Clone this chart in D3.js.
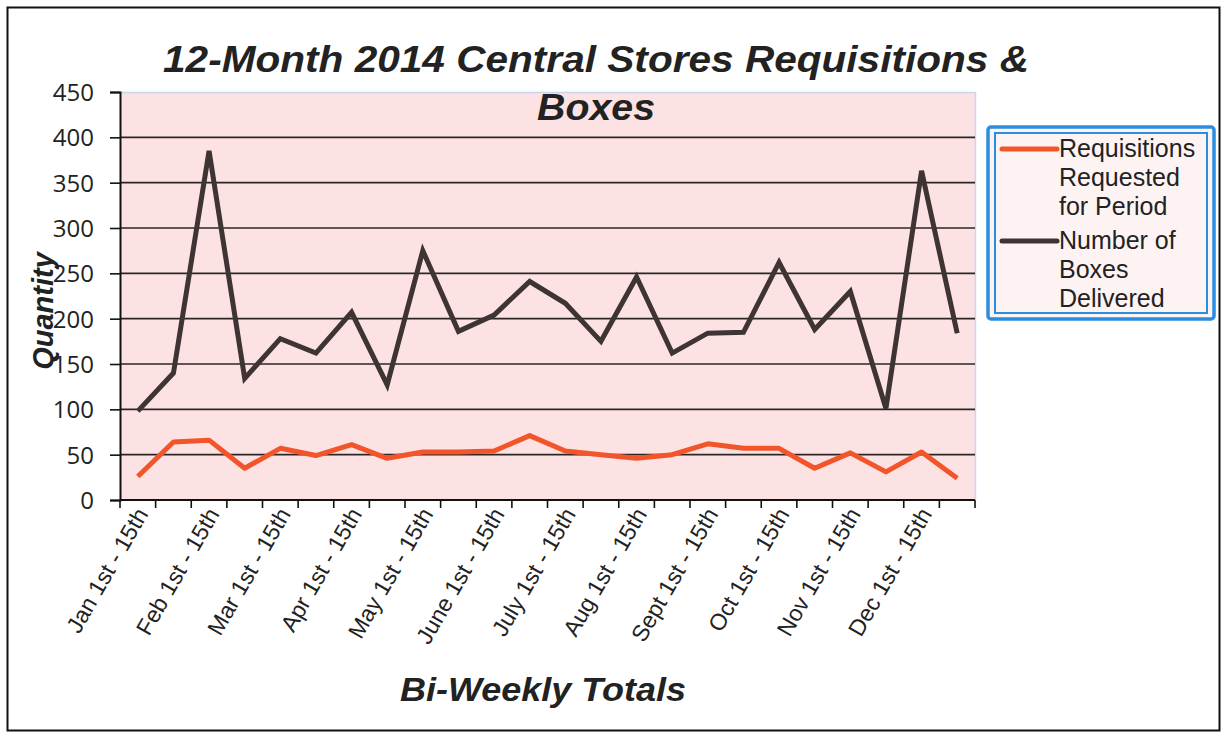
<!DOCTYPE html>
<html>
<head>
<meta charset="utf-8">
<script src="https://cdn.jsdelivr.net/npm/d3@7"></script>
<style>
  html, body { margin: 0; padding: 0; background: #ffffff; }
  svg { display: block; }
</style>
</head>
<body>
<svg id="chart" width="1222" height="734"></svg>
<script>
// ---- data ----
const categories = [
  "Jan 1st - 15th", "Jan 16th - 31st",
  "Feb 1st - 15th", "Feb 16th - 28th",
  "Mar 1st - 15th", "Mar 16th - 31st",
  "Apr 1st - 15th", "Apr 16th - 30th",
  "May 1st - 15th", "May 16th - 31st",
  "June 1st - 15th", "June 16th - 30th",
  "July 1st - 15th", "July 16th - 31st",
  "Aug 1st - 15th", "Aug 16th - 31st",
  "Sept 1st - 15th", "Sept 16th - 30th",
  "Oct 1st - 15th", "Oct 16th - 31st",
  "Nov 1st - 15th", "Nov 16th - 30th",
  "Dec 1st - 15th", "Dec 16th - 31st"
];
const requisitions = [26, 64, 66, 35, 57, 49, 61, 46, 53, 53, 54, 71, 54, 50, 46, 50, 62, 57, 57, 35, 52, 31, 53, 24];
const boxes = [98, 140, 385, 134, 178, 162, 207, 127, 275, 186, 204, 241, 217, 175, 246, 162, 184, 185, 262, 188, 230, 101, 363, 184];
const yTicks = [0, 50, 100, 150, 200, 250, 300, 350, 400, 450];
const seriesNames = [["Requisitions", "Requested", "for Period"], ["Number of", "Boxes", "Delivered"]];
const titleLines = ["12-Month 2014 Central Stores Requisitions &", "Boxes"];
const xTitle = "Bi-Weekly Totals";
const yTitle = "Quantity";

// ---- layout ----
const svg = d3.select("#chart");
const L = 120, R = 975, T = 92, B = 500;
const orange = "#f2552a", dark = "#3e3434";

// outer frame
svg.append("rect").attr("x", 7.5).attr("y", 7.5).attr("width", 1212).attr("height", 723)
  .attr("fill", "#fff").attr("stroke", "#111").attr("stroke-width", 2);

const x = d3.scaleBand().domain(categories).range([L, R]).padding(0);
const y = d3.scaleLinear().domain([0, 450]).range([B, T]);

// plot background
svg.append("rect").attr("x", L).attr("y", T).attr("width", R - L).attr("height", B - T)
  .attr("fill", "#fde2e4").attr("stroke", "none");
svg.append("line").attr("x1", L).attr("x2", R).attr("y1", T + 0.5).attr("y2", T + 0.5)
  .attr("stroke", "#c8d4f0").attr("stroke-width", 1.5);
svg.append("line").attr("x1", R + 0.5).attr("x2", R + 0.5).attr("y1", T).attr("y2", B)
  .attr("stroke", "#c8d4f0").attr("stroke-width", 1.5);

// gridlines
svg.append("g").selectAll("line").data(yTicks.filter(v => v > 0 && v < 450)).join("line")
  .attr("x1", L).attr("x2", R)
  .attr("y1", d => y(d)).attr("y2", d => y(d))
  .attr("stroke", "#2a2626").attr("stroke-width", 1.6);

// y axis
const yAxis = d3.axisLeft(y).tickValues(yTicks).tickSize(10).tickPadding(6);
const gy = svg.append("g").attr("transform", `translate(${L},0)`).call(yAxis);
gy.select(".domain").attr("stroke", "#111").attr("stroke-width", 2);
gy.selectAll(".tick line").attr("stroke", "#111").attr("stroke-width", 1.6);
gy.selectAll(".tick text").attr("font-family", "'Open Sans', sans-serif")
  .attr("font-size", 24).attr("fill", "#222").attr("x", -26).attr("dy", "0.36em");

// x axis
const tickPos = d3.range(categories.length + 1).map(i => L + i * x.step());
const gx = svg.append("g");
gx.append("line").attr("x1", L).attr("x2", R).attr("y1", B).attr("y2", B)
  .attr("stroke", "#111").attr("stroke-width", 2);
gx.selectAll("line.t").data(tickPos).join("line").attr("class", "t")
  .attr("x1", d => d).attr("x2", d => d).attr("y1", B).attr("y2", B + 8)
  .attr("stroke", "#111").attr("stroke-width", 1.6);
gx.selectAll("text").data(categories.filter((c, i) => i % 2 === 0)).join("text")
  .attr("transform", d => `translate(${x(d) + x.bandwidth() / 2 + 11},${B + 14}) rotate(-60)`)
  .attr("text-anchor", "end")
  .attr("font-family", "'Liberation Sans', Arial, sans-serif")
  .attr("font-size", 23).attr("fill", "#222")
  .text(d => d);

// lines
const line = d3.line().x((d, i) => x(categories[i]) + x.bandwidth() / 2).y(d => y(d));
svg.append("path").datum(boxes).attr("d", line).attr("fill", "none")
  .attr("stroke", dark).attr("stroke-width", 5).attr("stroke-linejoin", "miter");
svg.append("path").datum(requisitions).attr("d", line).attr("fill", "none")
  .attr("stroke", orange).attr("stroke-width", 5).attr("stroke-linejoin", "round");

// title
const titleFont = "'Liberation Sans', Arial, sans-serif";
svg.append("text").attr("x", 596).attr("y", 72).attr("text-anchor", "middle")
  .attr("font-family", titleFont).attr("font-weight", "bold").attr("font-style", "italic")
  .attr("font-size", 36).attr("fill", "#222")
  .attr("textLength", 866).attr("lengthAdjust", "spacingAndGlyphs")
  .text(titleLines[0]);
svg.append("text").attr("x", 596).attr("y", 120).attr("text-anchor", "middle")
  .attr("font-family", titleFont).attr("font-weight", "bold").attr("font-style", "italic")
  .attr("font-size", 36).attr("fill", "#222")
  .attr("textLength", 118).attr("lengthAdjust", "spacingAndGlyphs")
  .text(titleLines[1]);

// axis titles
svg.append("text").attr("x", 543).attr("y", 701).attr("text-anchor", "middle")
  .attr("font-family", titleFont).attr("font-weight", "bold").attr("font-style", "italic")
  .attr("font-size", 34).attr("fill", "#222")
  .attr("textLength", 286).attr("lengthAdjust", "spacingAndGlyphs")
  .text(xTitle);
svg.append("text").attr("transform", "translate(53,311) rotate(-90)").attr("text-anchor", "middle")
  .attr("font-family", titleFont).attr("font-weight", "bold").attr("font-style", "italic")
  .attr("font-size", 29).attr("fill", "#222")
  .text(yTitle);

// legend
const lg = svg.append("g");
lg.append("rect").attr("x", 988).attr("y", 127).attr("width", 226).attr("height", 192).attr("rx", 3)
  .attr("fill", "#fdf3f3").attr("stroke", "#2a8ee0").attr("stroke-width", 3.5);
lg.append("rect").attr("x", 995).attr("y", 133).attr("width", 212).attr("height", 180)
  .attr("fill", "none").attr("stroke", "#2a8ee0").attr("stroke-width", 2);
const lColors = [orange, dark];
const lY = [149, 241];
seriesNames.forEach((lines, k) => {
  lg.append("line").attr("x1", 1002).attr("x2", 1057).attr("y1", lY[k]).attr("y2", lY[k])
    .attr("stroke", lColors[k]).attr("stroke-width", 5).attr("stroke-linecap", "round");
  lines.forEach((t, j) => {
    lg.append("text").attr("x", 1059).attr("y", lY[k] + 8 + j * 29)
      .attr("font-family", titleFont).attr("font-size", 25).attr("fill", "#222")
      .text(t);
  });
});
</script>
</body>
</html>
